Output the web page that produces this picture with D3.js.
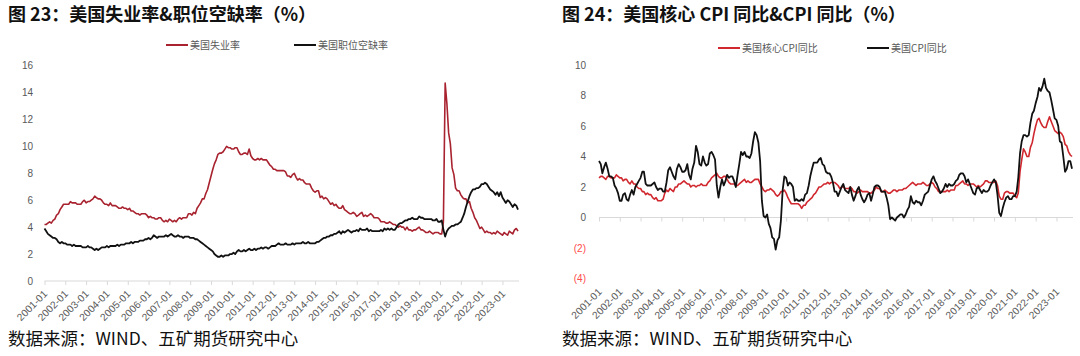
<!DOCTYPE html>
<html><head><meta charset="utf-8">
<script src="https://cdn.jsdelivr.net/npm/d3@7"></script>
<style>
html,body{margin:0;padding:0;background:#fff;}
svg{display:block;}
</style></head>
<body>
<svg id="c" width="1080" height="356"></svg>
<script>
// ---------------- DATA ----------------
const startMonth = "2001-01";
const tickLabels = ["2001-01","2002-01","2003-01","2004-01","2005-01","2006-01","2007-01","2008-01","2009-01","2010-01","2011-01","2012-01","2013-01","2014-01","2015-01","2016-01","2017-01","2018-01","2019-01","2020-01","2021-01","2022-01","2023-01"];

// Chart 23: US unemployment rate (%), monthly 2001-01 .. 2023-10
const unemployment = [
4.2,4.2,4.3,4.4,4.3,4.5,4.6,4.9,5.0,5.3,5.5,5.7,
5.7,5.7,5.7,5.9,5.8,5.8,5.8,5.7,5.7,5.7,5.9,6.0,
5.8,5.9,5.9,6.0,6.1,6.3,6.2,6.1,6.1,6.0,5.8,5.7,
5.7,5.6,5.8,5.6,5.6,5.6,5.5,5.4,5.4,5.5,5.4,5.4,
5.3,5.4,5.2,5.2,5.1,5.0,5.0,4.9,5.0,5.0,5.0,4.9,
4.7,4.8,4.7,4.7,4.6,4.6,4.7,4.7,4.5,4.4,4.5,4.4,
4.6,4.5,4.4,4.5,4.4,4.6,4.7,4.6,4.7,4.7,4.7,5.0,
5.0,4.9,5.1,5.0,5.4,5.6,5.8,6.1,6.1,6.5,6.8,7.3,
7.8,8.3,8.7,9.0,9.4,9.5,9.5,9.6,9.8,10.0,9.9,9.9,
9.8,9.8,9.9,9.9,9.6,9.4,9.4,9.5,9.5,9.4,9.8,9.3,
9.1,9.0,9.0,9.1,9.0,9.1,9.0,9.0,9.0,8.8,8.6,8.5,
8.3,8.3,8.2,8.2,8.2,8.2,8.2,8.1,7.8,7.8,7.7,7.9,
8.0,7.7,7.5,7.6,7.5,7.5,7.3,7.2,7.2,7.2,6.9,6.7,
6.6,6.7,6.7,6.2,6.3,6.1,6.2,6.1,5.9,5.7,5.8,5.6,
5.7,5.5,5.4,5.4,5.6,5.3,5.2,5.1,5.0,5.0,5.1,5.0,
4.8,4.9,5.0,5.1,4.8,4.9,4.8,4.9,5.0,4.9,4.7,4.7,
4.7,4.6,4.4,4.4,4.4,4.3,4.3,4.4,4.3,4.2,4.2,4.1,
4.0,4.1,4.0,4.0,3.8,4.0,3.8,3.8,3.7,3.8,3.8,3.9,
4.0,3.8,3.8,3.7,3.6,3.6,3.7,3.6,3.5,3.6,3.6,3.6,
3.5,3.5,4.4,14.7,13.2,11.0,10.2,8.4,7.9,6.9,6.7,6.7,
6.4,6.2,6.1,6.1,5.8,5.9,5.4,5.1,4.7,4.5,4.2,3.9,
4.0,3.8,3.6,3.7,3.6,3.6,3.5,3.6,3.5,3.7,3.6,3.5,
3.4,3.6,3.5,3.4,3.7,3.6,3.5,3.8,3.9,3.7];

// Chart 23: US job openings rate (%), monthly 2001-01 .. 2023-10
const jobOpenings = [
3.9,3.7,3.5,3.4,3.3,3.2,3.2,3.1,2.9,2.8,2.9,2.8,
2.8,2.7,2.7,2.7,2.6,2.7,2.6,2.6,2.6,2.6,2.5,2.5,
2.5,2.6,2.5,2.5,2.4,2.3,2.4,2.3,2.4,2.5,2.5,2.5,
2.6,2.5,2.6,2.6,2.6,2.6,2.7,2.6,2.7,2.7,2.7,2.8,
2.8,2.8,2.9,2.8,2.9,2.9,2.9,3.0,3.0,3.0,3.1,3.1,
3.2,3.1,3.2,3.4,3.3,3.2,3.3,3.3,3.3,3.3,3.4,3.3,
3.4,3.5,3.4,3.3,3.3,3.4,3.3,3.3,3.2,3.3,3.3,3.3,
3.2,3.2,3.2,3.1,3.1,3.0,2.9,2.8,2.7,2.6,2.5,2.4,
2.3,2.2,2.0,1.9,1.8,1.8,1.9,1.8,1.9,1.9,1.9,2.0,
2.0,2.1,2.0,2.2,2.3,2.2,2.2,2.3,2.2,2.3,2.4,2.3,
2.3,2.4,2.3,2.4,2.4,2.5,2.4,2.5,2.5,2.4,2.5,2.6,
2.6,2.6,2.7,2.8,2.7,2.7,2.7,2.8,2.7,2.7,2.7,2.8,
2.7,2.8,2.8,2.8,2.8,2.9,2.8,2.8,2.9,2.8,2.8,2.8,
2.8,2.9,2.9,3.0,3.1,3.2,3.2,3.3,3.3,3.4,3.4,3.5,
3.5,3.6,3.7,3.5,3.7,3.6,3.7,3.8,3.7,3.6,3.7,3.7,
3.8,3.7,3.9,3.8,3.8,3.8,3.9,3.7,3.8,3.7,3.7,3.7,
3.7,3.7,3.8,3.7,3.9,3.8,3.9,3.8,3.9,3.8,3.8,4.0,
4.2,4.3,4.3,4.4,4.5,4.5,4.6,4.6,4.7,4.6,4.6,4.6,
4.8,4.7,4.7,4.6,4.6,4.6,4.6,4.6,4.5,4.5,4.6,4.4,
4.4,4.5,3.8,3.3,3.7,3.9,4.0,4.1,4.1,4.2,4.2,4.3,
4.4,4.7,5.0,5.5,5.9,6.3,6.6,6.8,6.8,6.9,6.9,7.0,
7.2,7.2,7.3,7.2,7.0,6.8,6.7,6.6,6.4,6.6,6.3,6.6,
6.2,6.0,5.8,6.0,5.9,5.7,5.5,5.7,5.6,5.3];

// Chart 24: US core CPI YoY (%), monthly 2001-01 .. 2023-10
const coreCpi = [
2.6,2.7,2.7,2.6,2.5,2.7,2.7,2.6,2.6,2.6,2.8,2.7,
2.6,2.6,2.4,2.5,2.5,2.3,2.2,2.4,2.2,2.2,2.0,1.9,
1.9,1.7,1.7,1.5,1.6,1.5,1.5,1.3,1.2,1.3,1.1,1.1,
1.1,1.2,1.6,1.8,1.7,1.9,1.8,1.7,2.0,2.0,2.2,2.2,
2.3,2.4,2.3,2.2,2.2,2.0,2.1,2.1,2.0,2.1,2.1,2.2,
2.1,2.1,2.1,2.3,2.4,2.6,2.7,2.8,2.9,2.7,2.6,2.6,
2.7,2.7,2.5,2.3,2.2,2.2,2.2,2.1,2.1,2.2,2.3,2.4,
2.5,2.3,2.4,2.3,2.3,2.4,2.5,2.5,2.5,2.2,2.0,1.8,
1.7,1.8,1.8,1.9,1.8,1.7,1.5,1.4,1.5,1.7,1.7,1.8,
1.6,1.3,1.1,0.9,0.9,0.9,0.9,0.9,0.8,0.6,0.8,0.8,
1.0,1.1,1.2,1.3,1.5,1.6,1.8,2.0,2.0,2.1,2.2,2.2,
2.3,2.2,2.3,2.3,2.3,2.2,2.1,1.9,2.0,2.0,1.9,1.9,
1.9,2.0,1.9,1.7,1.7,1.6,1.7,1.8,1.7,1.7,1.7,1.7,
1.6,1.6,1.7,1.8,2.0,1.9,1.9,1.7,1.7,1.8,1.7,1.6,
1.6,1.7,1.8,1.8,1.7,1.8,1.8,1.8,1.9,1.9,2.0,2.1,
2.2,2.3,2.2,2.1,2.2,2.2,2.2,2.3,2.2,2.1,2.1,2.2,
2.3,2.2,2.0,1.9,1.7,1.7,1.7,1.7,1.7,1.8,1.7,1.8,
1.8,1.8,2.1,2.1,2.2,2.3,2.4,2.2,2.2,2.1,2.2,2.2,
2.2,2.1,2.0,2.1,2.0,2.1,2.2,2.4,2.4,2.3,2.3,2.3,
2.3,2.4,2.1,1.4,1.2,1.2,1.6,1.7,1.7,1.6,1.6,1.6,
1.4,1.3,1.6,3.0,3.8,4.5,4.3,4.0,4.0,4.6,4.9,5.5,
6.0,6.4,6.5,6.2,6.0,5.9,5.9,6.3,6.6,6.3,6.0,5.7,
5.6,5.5,5.6,5.5,5.3,4.8,4.7,4.3,4.1,4.0];

// Chart 24: US CPI YoY (%), monthly 2001-01 .. 2023-10
const cpi = [
3.7,3.5,2.9,3.3,3.6,3.2,2.7,2.7,2.6,2.1,1.9,1.6,
1.1,1.1,1.5,1.6,1.2,1.1,1.5,1.8,1.5,2.0,2.2,2.4,
2.6,3.0,3.0,2.2,2.1,2.1,2.1,2.2,2.3,2.0,1.8,1.9,
1.9,1.7,1.7,2.3,3.1,3.3,3.0,2.7,2.5,3.2,3.5,3.3,
3.0,3.0,3.1,3.5,2.8,2.5,3.2,3.6,4.7,4.3,3.5,3.4,
4.0,3.6,3.4,3.5,4.2,4.3,4.1,3.8,2.1,1.3,2.0,2.5,
2.1,2.4,2.8,2.6,2.7,2.7,2.4,2.0,2.8,3.5,4.3,4.1,
4.3,4.0,4.0,3.9,4.2,5.0,5.6,5.4,4.9,3.7,1.1,0.1,
0.0,0.2,-0.4,-0.7,-1.3,-1.4,-2.1,-1.5,-1.3,-0.2,1.8,2.7,
2.6,2.1,2.3,2.2,2.0,1.1,1.2,1.1,1.1,1.2,1.1,1.5,
1.6,2.1,2.7,3.2,3.6,3.6,3.6,3.8,3.9,3.5,3.4,3.0,
2.9,2.9,2.7,2.3,1.7,1.7,1.4,1.7,2.0,2.2,1.8,1.7,
1.6,2.0,1.5,1.1,1.4,1.8,2.0,1.5,1.2,1.0,1.2,1.5,
1.6,1.1,1.5,2.0,2.1,2.1,2.0,1.7,1.7,1.7,1.3,0.8,
-0.1,0.0,-0.1,-0.2,0.0,0.1,0.2,0.2,0.0,0.2,0.5,0.7,
1.4,1.0,0.9,1.1,1.0,1.0,0.8,1.1,1.5,1.6,1.7,2.1,
2.5,2.7,2.4,2.2,1.9,1.6,1.7,1.9,2.2,2.0,2.2,2.1,
2.1,2.2,2.4,2.5,2.8,2.9,2.9,2.7,2.3,2.5,2.2,1.9,
1.6,1.5,1.9,2.0,1.8,1.6,1.8,1.7,1.7,1.8,2.1,2.3,
2.5,2.3,1.5,0.3,0.1,0.6,1.0,1.3,1.4,1.2,1.2,1.4,
1.4,1.7,2.6,4.2,5.0,5.4,5.4,5.3,5.4,6.2,6.8,7.0,
7.5,7.9,8.5,8.3,8.6,9.1,8.5,8.3,8.2,7.7,7.1,6.5,
6.4,6.0,5.0,4.9,4.0,3.0,3.2,3.7,3.7,3.2];

const leftYTicks = [0,2,4,6,8,10,12,14,16];
const rightYTicks = [-4,-2,0,2,4,6,8,10];
const leftSeriesNames = ["美国失业率","美国职位空缺率"];
const rightSeriesNames = ["美国核心CPI同比","美国CPI同比"];
const titles = ["图 23：美国失业率&职位空缺率（%）","图 24：美国核心 CPI 同比&CPI 同比（%）"];
const sourceText = "数据来源：WIND、五矿期货研究中心";

// ---------------- DRAW ----------------
const svg = d3.select("#c");
const parseM = d3.timeParse("%Y-%m");
const start = parseM(startMonth);
function datesFor(n){ return d3.range(n).map(i => d3.timeMonth.offset(start, i)); }

const TXT = "#595959";
const AXIS = "#d9d9d9";
const numFont = "'Liberation Sans','Noto Sans CJK SC',sans-serif";
const cjkFont = "'Noto Sans CJK SC','Noto Sans',sans-serif";

function chart(opt){
  const g = svg.append("g");
  const n = opt.series[0].values.length;
  const dates = datesFor(n);
  const x = d3.scaleTime()
    .domain([start, dates[n-1]])
    .range([opt.x0, opt.x1]);
  const y = d3.scaleLinear().domain(opt.yDomain).range([opt.yBottom, opt.yTop]);

  // title
  g.append("text").attr("x", opt.titleX).attr("y", 21)
    .attr("font-family", cjkFont).attr("font-weight", 700)
    .attr("font-size", 18).attr("fill", "#111").text(opt.title);
  // source
  g.append("text").attr("x", opt.titleX).attr("y", 345)
    .attr("font-family", cjkFont).attr("font-size", 17.5).attr("fill", "#111").text(sourceText);

  // y labels
  const ya = d3.axisLeft(y).tickValues(opt.yTicks).tickSize(0).tickPadding(0)
    .tickFormat(v => v < 0 ? "(" + Math.abs(v) + ")" : String(v));
  const yg = g.append("g").attr("transform", `translate(${opt.yLabelX},0)`).call(ya);
  yg.select(".domain").remove();
  yg.selectAll("text").attr("font-family", numFont).attr("font-size", 10)
    .attr("fill", d => d < 0 ? "#ff4b4b" : TXT);

  // x axis line at 0 with ticks
  const tickDates = tickLabels.map(parseM);
  const xa = d3.axisBottom(x).tickValues(tickDates).tickSize(4).tickSizeOuter(0).tickFormat("");
  const xg = g.append("g").attr("transform", `translate(0,${y(0)})`).call(xa);
  xg.select(".domain").attr("stroke", AXIS).attr("d", `M${opt.x0},0H${opt.axisEnd}`);
  xg.selectAll(".tick line").attr("stroke", AXIS);

  // x labels (low position)
  const ly = opt.labelY;
  g.append("g").selectAll("text").data(tickLabels).join("text")
    .attr("transform", d => `translate(${x(parseM(d)) + 1},${ly}) rotate(-45)`)
    .attr("text-anchor", "end").attr("dy", "0.35em")
    .attr("font-family", numFont).attr("font-size", 10.2).attr("letter-spacing", 0.1)
    .attr("fill", TXT)
    .text(d => d);

  // lines
  opt.series.forEach(s => {
    const line = d3.line().x((d,i) => x(dates[i])).y(d => y(d));
    g.append("path").datum(s.values).attr("d", line)
      .attr("fill", "none").attr("stroke", s.color).attr("stroke-width", s.width)
      .attr("stroke-linejoin", "round");
  });

  // legend
  opt.series.forEach((s, i) => {
    const lx = opt.legendX[i];
    g.append("line").attr("x1", lx).attr("x2", lx + 22)
      .attr("y1", opt.legendY).attr("y2", opt.legendY)
      .attr("stroke", s.color).attr("stroke-width", 2);
    g.append("text").attr("x", lx + 24).attr("y", opt.legendY).attr("dy", "0.35em")
      .attr("font-family", cjkFont).attr("font-size", 10).attr("fill", TXT).text(s.name);
  });
}

chart({
  title: titles[0], titleX: 8,
  x0: 44.5, x1: 518, axisEnd: 519,
  yDomain: [0, 16], yBottom: 281, yTop: 65.6, yTicks: leftYTicks, yLabelX: 33,
  labelY: 292,
  legendX: [166, 294], legendY: 45,
  series: [
    {name: leftSeriesNames[0], values: unemployment, color: "#a8232f", width: 1.6},
    {name: leftSeriesNames[1], values: jobOpenings, color: "#111111", width: 1.8}
  ]
});

chart({
  title: titles[1], titleX: 562,
  x0: 599, x1: 1072, axisEnd: 1073,
  yDomain: [-4, 10], yBottom: 278.5, yTop: 65, yTicks: rightYTicks, yLabelX: 586,
  labelY: 290,
  legendX: [718, 867], legendY: 48,
  series: [
    {name: rightSeriesNames[0], values: coreCpi, color: "#d0282e", width: 1.6},
    {name: rightSeriesNames[1], values: cpi, color: "#111111", width: 1.8}
  ]
});
</script>
</body></html>
